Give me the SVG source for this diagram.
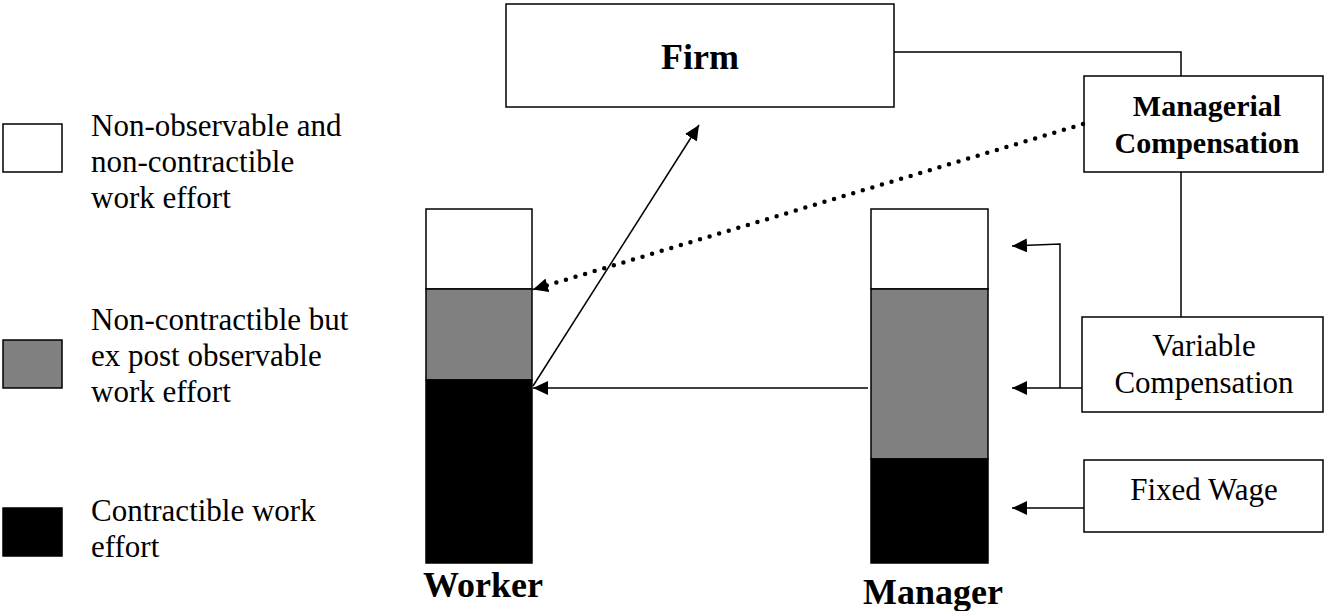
<svg xmlns="http://www.w3.org/2000/svg" width="1324" height="611" viewBox="0 0 1324 611">
<defs>
<style>
.box{fill:#fff;stroke:#000;stroke-width:1.5}
.w{fill:#fff;stroke:#000;stroke-width:1.5}
.g{fill:#808080;stroke:#000;stroke-width:1.5}
.k{fill:#000;stroke:#000;stroke-width:1.5}
.t{font-family:"Liberation Serif","Times New Roman",serif;font-size:31px;fill:#000}
.b{font-family:"Liberation Serif","Times New Roman",serif;font-weight:bold;fill:#000}
.ln{fill:none;stroke:#000;stroke-width:1.5}
.dot{fill:none;stroke:#000;stroke-width:4.5;stroke-linecap:round;stroke-dasharray:0 10}
</style>
<marker id="ah" markerUnits="userSpaceOnUse" markerWidth="16" markerHeight="14" refX="15" refY="7" orient="auto">
<path d="M0,0 L15,7 L0,14 z" fill="#000"/>
</marker>
</defs>
<rect width="1324" height="611" fill="#fff"/>

<g id="legend">
<rect class="w" x="3" y="124" width="59" height="48"/>
<text class="t" x="91" y="136">Non-observable and</text>
<text class="t" x="91" y="172">non-contractible</text>
<text class="t" x="91" y="208">work effort</text>
<rect class="g" x="3" y="340" width="59" height="48"/>
<text class="t" x="91" y="330">Non-contractible but</text>
<text class="t" x="91" y="366">ex post observable</text>
<text class="t" x="91" y="402">work effort</text>
<rect class="k" x="3" y="508" width="59" height="48"/>
<text class="t" x="91" y="521">Contractible work</text>
<text class="t" x="91" y="557">effort</text>
</g>

<g id="firm">
<rect class="box" x="506" y="4" width="388" height="103"/>
<text class="b" x="700" y="69" font-size="36" text-anchor="middle">Firm</text>
</g>

<g id="managerial-compensation">
<rect class="box" x="1084" y="76" width="239" height="96"/>
<text class="b" x="1207" y="116" font-size="30" text-anchor="middle">Managerial</text>
<text class="b" x="1207" y="153" font-size="30" text-anchor="middle">Compensation</text>
</g>

<g id="variable-compensation">
<rect class="box" x="1082" y="317" width="241" height="95"/>
<text class="t" x="1204" y="356" text-anchor="middle">Variable</text>
<text class="t" x="1204" y="393" text-anchor="middle">Compensation</text>
</g>

<g id="fixed-wage">
<rect class="box" x="1084" y="460" width="239" height="72"/>
<text class="t" x="1204" y="500" text-anchor="middle">Fixed Wage</text>
</g>

<g id="worker">
<rect class="w" x="426" y="209" width="106" height="80"/>
<rect class="g" x="426" y="289" width="106" height="91"/>
<rect class="k" x="426" y="380" width="106" height="183"/>
<text class="b" x="483" y="597" font-size="36" text-anchor="middle">Worker</text>
</g>

<g id="manager">
<rect class="w" x="871" y="209" width="117" height="80"/>
<rect class="g" x="871" y="289" width="117" height="170"/>
<rect class="k" x="871" y="459" width="117" height="104"/>
<text class="b" x="933" y="604" font-size="36" text-anchor="middle">Manager</text>
</g>

<g id="connectors">
<polyline class="ln" points="894,52 1181,52 1181,76"/>
<line class="ln" x1="1181" y1="172" x2="1181" y2="317"/>
<line class="ln" x1="533" y1="386" x2="699" y2="125" marker-end="url(#ah)"/>
<line class="ln" x1="868" y1="388" x2="533" y2="388" marker-end="url(#ah)"/>
<line class="dot" x1="1083" y1="124" x2="545" y2="286"/>
<line class="ln" x1="545" y1="286" x2="533" y2="289.5" stroke-width="0" marker-end="url(#ah)"/>
<line class="ln" x1="1082" y1="388" x2="1012" y2="388" marker-end="url(#ah)"/>
<polyline class="ln" points="1060,388 1060,244 1012,246" marker-end="url(#ah)"/>
<line class="ln" x1="1084" y1="508" x2="1012" y2="508" marker-end="url(#ah)"/>
</g>
</svg>
